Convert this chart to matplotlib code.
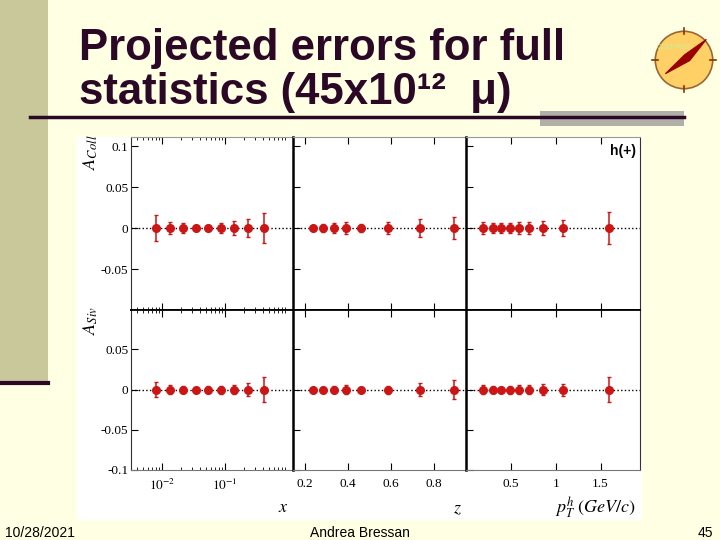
import matplotlib
matplotlib.use('Agg')
import matplotlib.pyplot as plt
from matplotlib.patches import Rectangle, Circle, Polygon
from matplotlib.lines import Line2D

# 投影数据 (all asymmetries projected at 0)
x_bins = [0.0079, 0.0134, 0.0213, 0.0343, 0.0543, 0.0865, 0.141, 0.232, 0.411]
z_bins = [0.236, 0.286, 0.337, 0.390, 0.462, 0.585, 0.736, 0.894]
pt_bins = [0.192, 0.296, 0.392, 0.489, 0.589, 0.707, 0.856, 1.084, 1.596]

coll_x = [0, 0, 0, 0, 0, 0, 0, 0, 0]
coll_z = [0, 0, 0, 0, 0, 0, 0, 0]
coll_pt = [0, 0, 0, 0, 0, 0, 0, 0, 0]
siv_x = [0, 0, 0, 0, 0, 0, 0, 0, 0]
siv_z = [0, 0, 0, 0, 0, 0, 0, 0]
siv_pt = [0, 0, 0, 0, 0, 0, 0, 0, 0]

coll_x_err = [0.0155, 0.0073, 0.006, 0.004, 0.0033, 0.0065, 0.0085, 0.0115, 0.018]
coll_z_err = [0.003, 0.005, 0.006, 0.0073, 0.005, 0.0073, 0.011, 0.014]
coll_pt_err = [0.007, 0.006, 0.0057, 0.006, 0.007, 0.007, 0.009, 0.010, 0.020]
siv_x_err = [0.009, 0.0053, 0.004, 0.0025, 0.004, 0.005, 0.006, 0.008, 0.016]
siv_z_err = [0.0025, 0.003, 0.004, 0.0058, 0.003, 0.005, 0.008, 0.012]
siv_pt_err = [0.0053, 0.004, 0.0035, 0.005, 0.0058, 0.0053, 0.0066, 0.0074, 0.0156]

plt.rcParams['font.family'] = ['Liberation Serif', 'DejaVu Serif']
plt.rcParams['mathtext.fontset'] = 'stix'

W, H = 720, 540
fig = plt.figure(figsize=(7.2, 5.4), dpi=100)
fig.patch.set_facecolor('#FFFFE3')


def fx(px):
    return px / W


def fy(py):
    return 1 - py / H


dark = '#2A0826'

# slide decorations
fig.add_artist(Rectangle((0, fy(383)), fx(48), 383 / H, transform=fig.transFigure,
                         facecolor='#C8C89A', edgecolor='none', zorder=0))
fig.add_artist(Line2D([0, fx(48)], [fy(383), fy(383)], color=dark, lw=3, zorder=1))
fig.add_artist(Rectangle((fx(540), fy(126)), fx(144), 15 / H, transform=fig.transFigure,
                         facecolor='#B0B0A8', edgecolor='none', zorder=1))
fig.add_artist(Line2D([fx(30), fx(684)], [fy(117), fy(117)], color=dark, lw=2.5, zorder=2))
fig.add_artist(Rectangle((fx(77), fy(520)), fx(565), (520 - 137) / H, transform=fig.transFigure,
                         facecolor='white', edgecolor='none', zorder=0))

# title
title_font = ['Liberation Sans', 'DejaVu Sans']
fig.text(fx(79), fy(60), 'Projected errors for full', fontsize=31.5, fontweight='bold',
         color=dark, family=title_font, va='baseline')
fig.text(fx(79), fy(104), 'statistics (45x10¹²  μ)', fontsize=31.5, fontweight='bold',
         color=dark, family=title_font, va='baseline')

# compass logo
cax = fig.add_axes([fx(650), fy(93), fx(68), 66 / H])
cax.set_xlim(-1.15, 1.15)
cax.set_ylim(-1.15, 1.15)
cax.set_aspect('equal')
cax.axis('off')
cax.add_patch(Circle((0, 0), 1, facecolor='#FFD066', edgecolor='#996633', lw=1.2))
for dx, dy in [(0, 1), (0, -1), (1, 0), (-1, 0)]:
    cax.plot([dx * 0.9, dx * 1.1], [dy * 0.9, dy * 1.1], color='#883300', lw=1.2)
cax.text(-0.35, 0.45, 'COMPASS', fontsize=5, color='#CCEE99', ha='center', va='center',
         family='Liberation Sans')
cax.add_patch(Polygon([(-0.65, -0.48), (0.02, 0.18), (0.78, 0.72), (0.2, -0.02)],
                      closed=True, facecolor='#990000', edgecolor='#990000', lw=0.8))

# panels
cols = [(131, 293), (293, 466), (466, 640)]
rows = [(137, 310), (310, 470)]
series = [
    [(x_bins, coll_x, coll_x_err), (z_bins, coll_z, coll_z_err), (pt_bins, coll_pt, coll_pt_err)],
    [(x_bins, siv_x, siv_x_err), (z_bins, siv_z, siv_z_err), (pt_bins, siv_pt, siv_pt_err)],
]
red = '#CC1515'

for r, (y0, y1) in enumerate(rows):
    for c, (x0, x1) in enumerate(cols):
        ax = fig.add_axes([fx(x0), fy(y1), fx(x1 - x0), (y1 - y0) / H])
        ax.set_facecolor('white')
        xs, vals, errs = series[r][c]
        ax.axhline(0, color='black', ls=':', lw=1, zorder=1)
        ax.errorbar(xs, vals, yerr=errs, fmt='o', color=red, ms=5.5,
                    elinewidth=1.1, capsize=1.5, capthick=1, zorder=3)

        if c == 0:
            ax.set_xscale('log')
            ax.set_xlim(0.0032, 1.2)
            ax.set_xticks([0.01, 0.1])
            ax.set_xticklabels(['$10^{-2}$', '$10^{-1}$'])
        elif c == 1:
            ax.set_xlim(0.145, 0.95)
            ax.set_xticks([0.2, 0.4, 0.6, 0.8])
            ax.set_xticklabels(['0.2', '0.4', '0.6', '0.8'])
        else:
            ax.set_xlim(0, 1.94)
            ax.set_xticks([0.5, 1, 1.5])
            ax.set_xticklabels(['0.5', '1', '1.5'])

        if r == 0:
            ax.set_ylim(-0.1, 0.111)
            ax.set_yticks([-0.05, 0, 0.05, 0.1])
            ax.set_yticklabels(['-0.05', '0', '0.05', '0.1'])
        else:
            ax.set_ylim(-0.1, 0.099)
            ax.set_yticks([-0.1, -0.05, 0, 0.05])
            ax.set_yticklabels(['-0.1', '-0.05', '0', '0.05'])

        ax.tick_params(axis='both', which='both', direction='in', top=True, bottom=True,
                       left=True, right=False, labelsize=9.5, colors='black')
        ax.tick_params(axis='x', which='major', length=5, pad=6)
        ax.tick_params(axis='x', which='minor', length=2.5)
        ax.tick_params(axis='y', which='major', length=5, pad=2)
        ax.tick_params(labelleft=(c == 0), labelbottom=(r == 1))

        for s in ax.spines.values():
            s.set_linewidth(0.8)
            s.set_color('#333333')
        ax.spines['right'].set_visible(c == 2)
        if c > 0:
            ax.spines['left'].set_linewidth(1.8)
            ax.spines['left'].set_color('black')
        if r == 0:
            ax.spines['top'].set_color('#999999')
            ax.spines['bottom'].set_linewidth(1.3)
            ax.spines['bottom'].set_color('black')
        else:
            ax.spines['top'].set_linewidth(1.3)
            ax.spines['top'].set_color('black')
            ax.spines['bottom'].set_color('#777777')

        if r == 0 and c == 2:
            ax.text(0.9, 0.92, 'h(+)', transform=ax.transAxes, ha='center', va='center',
                    fontsize=10, fontweight='bold', family='Liberation Sans')

# axis labels
fig.text(fx(91), fy(152), '$A_{Coll}$', rotation=90, fontsize=13, ha='center', va='center')
fig.text(fx(91), fy(320), '$A_{Siv}$', rotation=90, fontsize=13, ha='center', va='center')
fig.text(fx(283), fy(508), '$x$', fontsize=13, ha='center', va='center')
fig.text(fx(457), fy(509), '$z$', fontsize=13, ha='center', va='center')
fig.text(fx(596), fy(508), r'$p_{T}^{h}\ (GeV/c)$', fontsize=13, ha='center', va='center')

# footer
foot = ['Liberation Sans', 'DejaVu Sans']
fig.text(fx(5), fy(533), '10/28/2021', fontsize=10, family=foot, ha='left', va='center')
fig.text(fx(360), fy(533), 'Andrea Bressan', fontsize=10, family=foot, ha='center', va='center')
fig.text(fx(713), fy(533), '45', fontsize=10, family=foot, ha='right', va='center')

plt.savefig('out.png', dpi=100, facecolor=fig.get_facecolor())
